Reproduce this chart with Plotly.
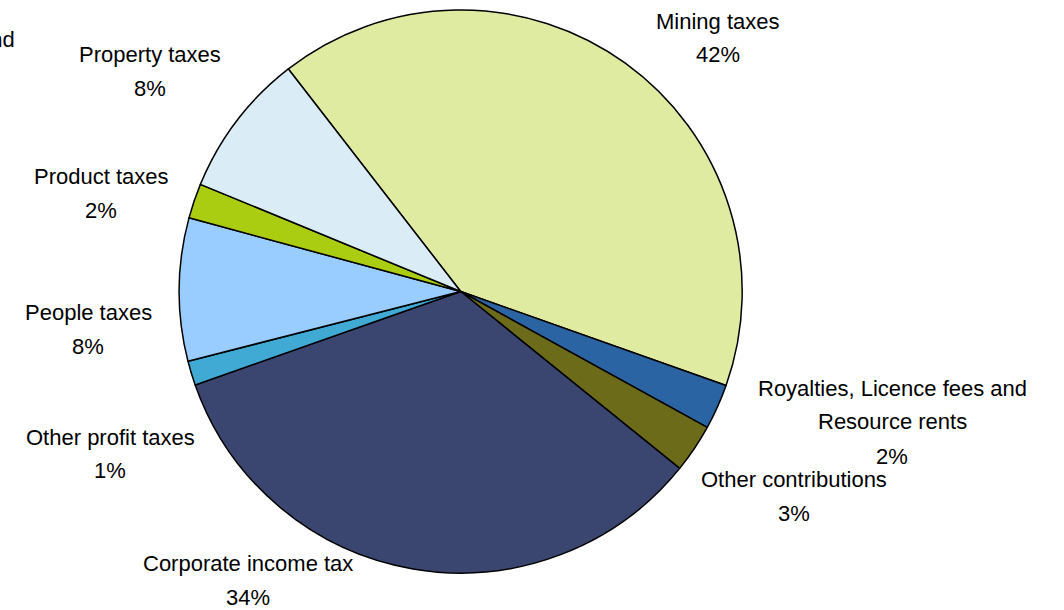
import plotly.graph_objects as go

# Data (clockwise from the Mining / Property boundary)
categories = ["Mining taxes", "Royalties, Licence fees and Resource rents", "Other contributions",
              "Corporate income tax", "Other profit taxes", "People taxes", "Product taxes",
              "Property taxes"]
values = [40.9, 2.6, 2.8, 33.8, 1.4, 8.2, 2.0, 8.3]
pct_labels = ["42%", "2%", "3%", "34%", "1%", "8%", "2%", "8%"]
label_lines = [["Mining taxes"], ["Royalties, Licence fees and", "Resource rents"],
               ["Other contributions"], ["Corporate income tax"], ["Other profit taxes"],
               ["People taxes"], ["Product taxes"], ["Property taxes"]]
colors = ["#DEEBA0", "#2B64A3", "#6B6B1A", "#3B4670", "#40AAD5", "#99CCFF", "#AACC11", "#DAEDF6"]

# Layout: label block centres (pixels)
W, H = 1064, 610
label_pos = [(718, 38), (892, 422), (794, 496), (248, 580), (110, 454), (88, 329), (101, 194), (150, 72)]
LINE = 34
FONT = dict(family="Liberation Sans, Arial, sans-serif", size=22, color="#000000")

fig = go.Figure(go.Pie(
    labels=categories, values=values, sort=False, direction="clockwise", rotation=-37.75,
    marker=dict(colors=colors, line=dict(color="#000000", width=1.5)),
    textinfo="none", hoverinfo="label+percent", showlegend=False,
    domain=dict(x=[0, 921.4 / W], y=[37 / H, 600 / H]),
))

annotations = []
for lines, pct, (cx, cy) in zip(label_lines, pct_labels, label_pos):
    all_lines = lines + [pct]
    n = len(all_lines)
    for i, t in enumerate(all_lines):
        y = cy + (i - (n - 1) / 2) * LINE
        annotations.append(dict(text=t, x=cx / W, y=1 - y / H, xref="paper", yref="paper",
                                xanchor="center", yanchor="middle", showarrow=False, font=FONT))
# clipped fragment at top-left
annotations.append(dict(text="and", x=17 / W, y=1 - 40 / H, xref="paper", yref="paper",
                        xanchor="right", yanchor="middle", showarrow=False, font=FONT))

fig.update_layout(width=W, height=H, margin=dict(l=0, r=0, t=0, b=0),
                  paper_bgcolor="white", plot_bgcolor="white", annotations=annotations)
fig.write_html("out.html")
